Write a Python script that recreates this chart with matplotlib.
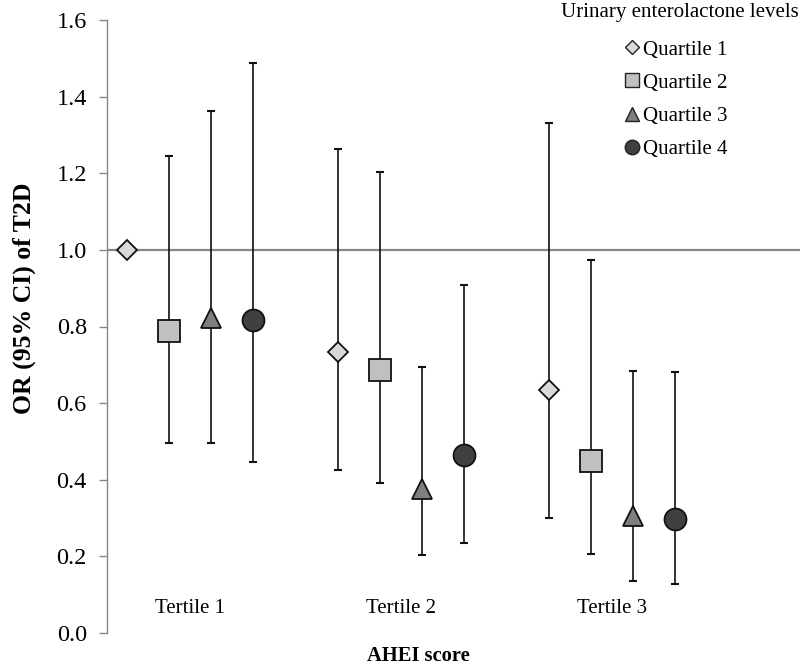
import matplotlib
matplotlib.use("Agg")
import matplotlib.pyplot as plt
import numpy as np
from matplotlib.lines import Line2D

# ---- data ----
tertiles = ["Tertile 1", "Tertile 2", "Tertile 3"]
quartiles = ["Quartile 1", "Quartile 2", "Quartile 3", "Quartile 4"]
# OR point estimates per quartile across AHEI tertiles
or_q1 = [1.00, 0.734, 0.634]
or_q2 = [0.788, 0.687, 0.449]
or_q3 = [0.822, 0.377, 0.305]
or_q4 = [0.817, 0.464, 0.298]
lo_q1 = [np.nan, 0.425, 0.300]
lo_q2 = [0.497, 0.392, 0.206]
lo_q3 = [0.497, 0.204, 0.136]
lo_q4 = [0.446, 0.236, 0.129]
hi_q1 = [np.nan, 1.263, 1.330]
hi_q2 = [1.245, 1.204, 0.973]
hi_q3 = [1.362, 0.695, 0.685]
hi_q4 = [1.489, 0.908, 0.681]
yticks = [0.0, 0.2, 0.4, 0.6, 0.8, 1.0, 1.2, 1.4, 1.6]

ors = [or_q1, or_q2, or_q3, or_q4]
los = [lo_q1, lo_q2, lo_q3, lo_q4]
his = [hi_q1, hi_q2, hi_q3, hi_q4]

markers = ["D", "s", "^", "o"]
msizes = [10.5, 15.5, 15, 15.8]
fills = ["#d9d9d9", "#c0c0c0", "#7f7f7f", "#404040"]
offsets = [-0.3, -0.1, 0.1, 0.3]

plt.rcParams['font.family'] = ['Liberation Serif', 'DejaVu Serif']

W, H = 802, 665
fig = plt.figure(figsize=(W / 100, H / 100), dpi=100)
ax = fig.add_axes([107 / W, (H - 633) / H, (800 - 107) / W, 613 / H])

x = np.arange(len(tertiles))
ax.axhline(1.0, color="#868686", lw=1.6, zorder=1)

handles = []
for i in range(4):
    xs = x + offsets[i]
    o = np.array(ors[i]); lo = np.array(los[i]); hi = np.array(his[i])
    yerr = np.vstack([o - lo, hi - o])
    ax.errorbar(xs, o, yerr=yerr, fmt="none", ecolor="#111111", elinewidth=1.2,
                capsize=2.6, capthick=1.5, zorder=2)
    ax.plot(xs, o, linestyle="none", marker=markers[i], markersize=msizes[i],
            markerfacecolor=fills[i], markeredgecolor="#111111", markeredgewidth=1.3,
            zorder=3)
    handles.append(Line2D([], [], linestyle="none", marker=markers[i],
                          markersize=msizes[i] * 0.66, markerfacecolor=fills[i],
                          markeredgecolor="#222222", markeredgewidth=1.0,
                          label=quartiles[i]))

ax.set_ylim(0, 1.6)
ax.set_xlim(-0.393, 2.89)
ax.set_yticks(yticks)
ax.set_yticklabels([f"{v:.1f}" for v in yticks], fontsize=17.5)
ax.set_xticks(x)
ax.set_xticklabels(tertiles, fontsize=15)
ax.tick_params(axis="x", length=0, pad=-24.3)
ax.tick_params(axis="y", direction="out", length=6, width=1, color="#868686", pad=8.5)

for s in ["top", "right", "bottom"]:
    ax.spines[s].set_visible(False)
ax.spines["left"].set_color("#868686")
ax.spines["left"].set_linewidth(1.0)

ax.set_ylabel("OR (95% CI) of T2D", fontsize=18.5, fontweight="bold")
ax.yaxis.set_label_coords(-0.102, 0.5465)
ax.set_xlabel("AHEI score", fontsize=14.8, fontweight="bold")
ax.xaxis.set_label_coords(0.449, -0.022)

fig.text(680 / W, 1 - 13 / H, "Urinary enterolactone levels", fontsize=15,
         ha="center", va="center")
leg = fig.legend(handles=handles, loc="upper left",
                 bbox_to_anchor=(625 / W, 1 - 40 / H), frameon=False,
                 fontsize=15, handlelength=0.7,
                 handletextpad=0.15, labelspacing=0.65, borderaxespad=0.0,
                 borderpad=0.0)

fig.savefig("out.png", dpi=100)
